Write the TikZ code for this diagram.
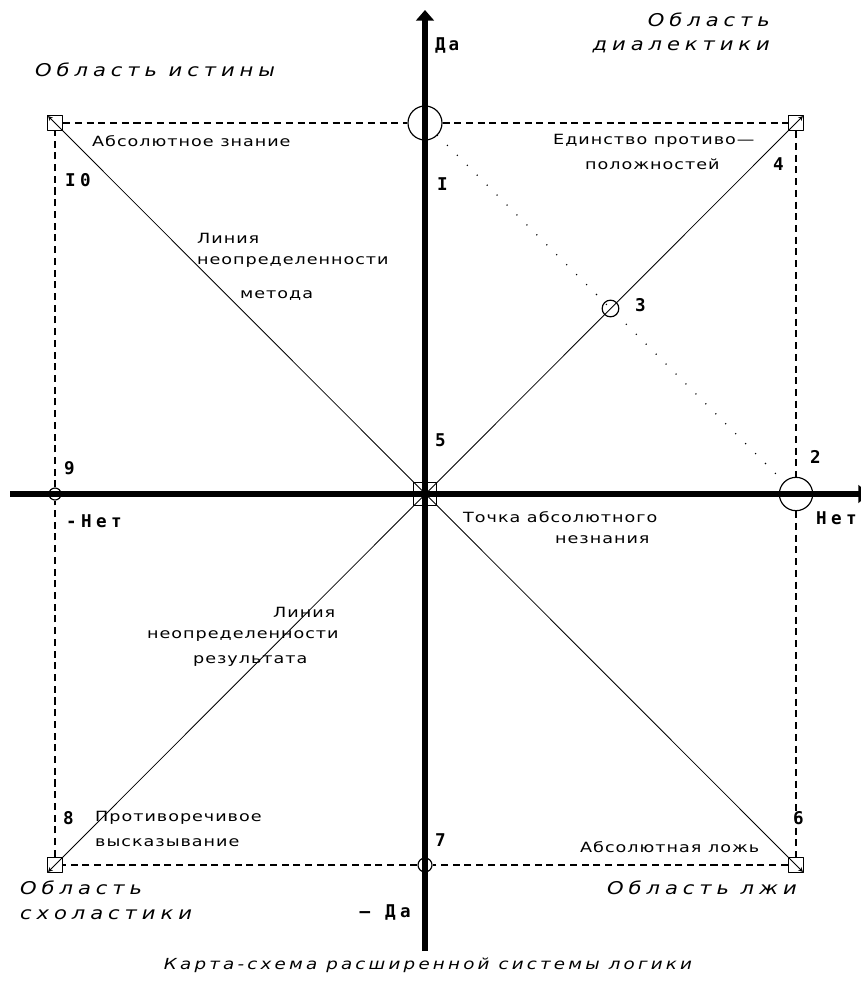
\documentclass[tikz,border=0pt]{standalone}
\usepackage{fontspec}
\usepackage{tikz}
\usetikzlibrary{arrows.meta}
\setmainfont{DejaVu Sans}
\newfontfamily\txtfont[FakeStretch=1.25, LetterSpace=7]{DejaVu Sans}
\newfontfamily\numfont[LetterSpace=25]{DejaVu Sans Mono}
\newfontfamily\areafont[FakeStretch=1.2, LetterSpace=28]{DejaVu Sans}

\begin{document}
\begin{tikzpicture}[x=0.03cm, y=-0.03cm, line join=round,
	txt/.style={font=\txtfont\fontsize{12}{14}\selectfont, inner sep=0pt, anchor=west},
	num/.style={font=\numfont\bfseries\fontsize{15}{18}\selectfont, inner sep=0pt, anchor=west},
	arealbl/.style={font=\areafont\itshape\fontsize{15}{18}\selectfont, inner sep=0pt, anchor=west},
	box/.style={draw, line width=1.2pt, minimum size=0.45cm, inner sep=0pt},
	ring/.style={draw, circle, line width=1pt, inner sep=0pt},
	axisline/.style={line width=5pt, -{Triangle[width=15pt, length=9pt]}},
	edgeline/.style={line width=1pt, dash pattern=on 6pt off 4pt},
	diag/.style={line width=0.7pt, {Stealth[length=4pt, width=4pt]}-{Stealth[length=4pt, width=4pt]}, shorten <=1.5pt, shorten >=1.5pt},
	dotline/.style={line width=1.3pt, line cap=round, dash pattern=on 0pt off 12pt}]
	\useasboundingbox (0,0) rectangle (861,997);
	% Углы квадрата и центр
	\node[box] (tl) at (55,123) {};
	\node[box] (tr) at (796,123) {};
	\node[box] (bl) at (55,865) {};
	\node[box] (br) at (796,865) {};
	\node[box, minimum size=0.69cm] (ctr) at (425,494) {};
	% Отмеченные точки
	\node[ring, minimum size=1.02cm] (p1) at (425,123) {};
	\node[ring, minimum size=1.0cm] (p2) at (796,494) {};
	\node[ring, minimum size=0.5cm] (p3) at (610.5,308.5) {};
	\node[ring, minimum size=0.42cm] (p7) at (425,865) {};
	\node[ring, minimum size=0.36cm] (p9) at (55,494) {};
	% Пунктирная рамка
	\draw[edgeline] (tl) -- (p1) -- (tr) -- (p2) -- (br) -- (p7) -- (bl) -- (p9) -- (tl);
	% Диагонали
	\draw[diag] (tl.north west) -- (br.south east);
	\draw[diag] (bl.south west) -- (tr.north east);
	\draw[dotline] (p1) -- (p2);
	% Оси
	\coordinate (ybot) at (425,951);
	\coordinate (ytop) at (425,10);
	\coordinate (xleft) at (10,494);
	\coordinate (xright) at (869,494);
	\draw[axisline] (ybot) -- (ytop);
	\draw[axisline] (xleft) -- (xright);
	% Номера и подписи осей
	\node[num] (yes) at (435,45) {Д\,а};
	\node[num] (no) at (816,518) {Нет};
	\node[num] (notno) at (66,521) {-Нет};
	\node[num, anchor=east] (notyes) at (411,912) {– Да};
	\node[num] (n1) at (437,184) {I};
	\node[num] (n2) at (810,457) {2};
	\node[num] (n3) at (635,305) {3};
	\node[num] (n4) at (773,164) {4};
	\node[num] (n5) at (435,440) {5};
	\node[num] (n6) at (793,818) {6};
	\node[num] (n7) at (435,840) {7};
	\node[num] (n8) at (63,818) {8};
	\node[num] (n9) at (64,468) {9};
	\node[num] (n10) at (65,180) {I0};
	% Тексты
	\node[txt] (absknow) at (92,141) {Абсолютное знание};
	\node[txt] (unity1) at (553,141) {Единство противо—};
	\node[txt] (unity2) at (585,164) {положностей};
	\node[txt] (mline1) at (197,238) {Линия};
	\node[txt] (mline2) at (197,262) {неопределенности};
	\node[txt] (mline3) at (240,296) {метода};
	\node[txt] (zero1) at (463,517) {Точка абсолютного};
	\node[txt] (zero2) at (555,540) {незнания};
	\node[txt] (rline1) at (273,612) {Линия};
	\node[txt] (rline2) at (147,636) {неопределенности};
	\node[txt] (rline3) at (193,661) {результата};
	\node[txt] (contra1) at (95,818) {Противоречивое};
	\node[txt] (contra2) at (95,843) {высказывание};
	\node[txt] (abslie) at (580,847) {Абсолютная ложь};
	% Области
	\node[arealbl] (truth) at (35,70) {Область истины};
	\node[arealbl, anchor=east] (dial1) at (770,20) {Область};
	\node[arealbl, anchor=east] (dial2) at (770,47) {диалектики};
	\node[arealbl] (schol1) at (20,888) {Область};
	\node[arealbl] (schol2) at (20,915) {схоластики};
	\node[arealbl] (lie) at (607,888) {Область лжи};
	\node[arealbl, anchor=center, font=\areafont\itshape\fontsize{13}{15}\selectfont\addfontfeature{LetterSpace=21}] (caption) at (428,965) {Карта-схема расширенной системы логики};
\end{tikzpicture}
\end{document}
